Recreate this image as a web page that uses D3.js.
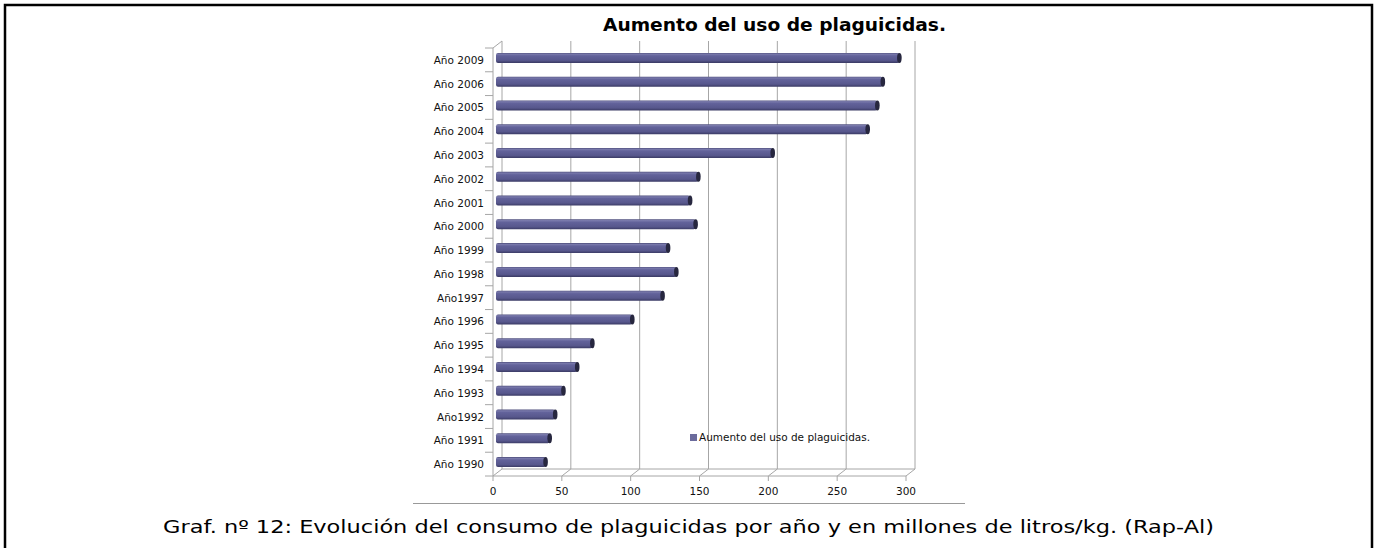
<!DOCTYPE html>
<html><head><meta charset="utf-8">
<script src="https://cdn.jsdelivr.net/npm/d3@7"></script>
<style>body{margin:0;background:#fff}svg{display:block}</style>
</head><body>
<svg id="c" width="1376" height="548"></svg>
<script>
const categories = ["Año 2009","Año 2006","Año 2005","Año 2004","Año 2003","Año 2002","Año 2001","Año 2000","Año 1999","Año 1998","Año1997","Año 1996","Año 1995","Año 1994","Año 1993","Año1992","Año 1991","Año 1990"];
const values = [293,281,277,270,201,147,141,145,125,131,121,99,70,59,49,43,39,36];
const tickValues = [0,50,100,150,200,250,300];
const seriesName = "Aumento del uso de plaguicidas.";
const titleText = "Aumento del uso de plaguicidas.";
const captionText = "Graf. nº 12: Evolución del consumo de plaguicidas por año y en millones de litros/kg. (Rap-Al)";

const svg = d3.select("#c");
const font = "DejaVu Sans, Verdana, sans-serif";

svg.append("path").attr("d","M5,548 V5 H1372 V548").attr("fill","none").attr("stroke","#000").attr("stroke-width",2.5);

const x0 = 493, x1 = 906, yTop = 48, yBot = 476, dx = 9, dy = -7;
const x = d3.scaleLinear().domain([0,300]).range([x0,x1]);
const y = d3.scaleBand().domain(categories).range([yTop,yBot]);

const defs = svg.append("defs");
const g1 = defs.append("linearGradient").attr("id","bar").attr("x1",0).attr("y1",0).attr("x2",0).attr("y2",1);
[[0,"#4c4c7a"],[0.12,"#7a7aac"],[0.3,"#62629a"],[0.75,"#57578c"],[1,"#3a3a64"]].forEach(s=>g1.append("stop").attr("offset",s[0]).attr("stop-color",s[1]));

const grid = svg.append("g");
tickValues.forEach(v=>{
  grid.append("line").attr("x1",x(v)+dx).attr("x2",x(v)+dx).attr("y1",yTop+dy).attr("y2",yBot+dy).attr("stroke","#a6a6a6");
  grid.append("line").attr("x1",x(v)).attr("y1",yBot).attr("x2",x(v)+dx).attr("y2",yBot+dy).attr("stroke","#a6a6a6");
});
grid.append("line").attr("x1",x0).attr("x2",x0).attr("y1",yTop).attr("y2",yBot).attr("stroke","#a6a6a6");
grid.append("line").attr("x1",x0).attr("y1",yTop).attr("x2",x0+dx).attr("y2",yTop+dy).attr("stroke","#a6a6a6");
grid.append("line").attr("x1",x0).attr("x2",x1).attr("y1",yBot).attr("y2",yBot).attr("stroke","#a6a6a6");
grid.append("line").attr("x1",x0+dx).attr("x2",x1+dx).attr("y1",yBot+dy).attr("y2",yBot+dy).attr("stroke","#a6a6a6");
categories.forEach(c=>{
  grid.append("line").attr("x1",x0-8).attr("x2",x0).attr("y1",y(c)).attr("y2",y(c)).attr("stroke","#a6a6a6");
});
grid.append("line").attr("x1",x0-8).attr("x2",x0).attr("y1",yBot).attr("y2",yBot).attr("stroke","#a6a6a6");
tickValues.forEach(v=>{
  grid.append("line").attr("x1",x(v)).attr("x2",x(v)).attr("y1",yBot).attr("y2",yBot+5).attr("stroke","#a6a6a6");
});

const bh = 10;
const bars = svg.append("g");
categories.forEach((c,i)=>{
  const cy = y(c) + y.bandwidth()/2 - 2;
  const bx0 = x(0) + 3, bx1 = x(values[i]) + 3;
  bars.append("rect").attr("x",bx0).attr("y",cy-bh/2).attr("width",bx1-bx0).attr("height",bh).attr("rx",2).attr("fill","url(#bar)");
  bars.append("ellipse").attr("cx",bx1).attr("cy",cy).attr("rx",2.3).attr("ry",bh/2).attr("fill","#27273f");
});

svg.append("g").selectAll("text").data(categories).join("text")
  .attr("x",x0-9).attr("y",d=>y(d)+y.bandwidth()/2+4)
  .attr("text-anchor","end").attr("font-family",font).attr("font-size",10.5).attr("fill","#111").text(d=>d);
svg.append("g").selectAll("text").data(tickValues).join("text")
  .attr("x",d=>x(d)).attr("y",yBot+19)
  .attr("text-anchor","middle").attr("font-family",font).attr("font-size",10.5).attr("fill","#111").text(d=>d);

svg.append("text").attr("x",774.5).attr("y",31).attr("text-anchor","middle").attr("font-family",font)
  .attr("font-weight","bold").attr("font-size",18).attr("fill","#000")
  .attr("textLength",343).attr("lengthAdjust","spacingAndGlyphs").text(titleText);

svg.append("rect").attr("x",690).attr("y",434).attr("width",7).attr("height",7).attr("fill","#6b6b9c");
svg.append("text").attr("x",699).attr("y",441).attr("font-family",font).attr("font-size",10).attr("fill","#111")
  .attr("textLength",171).attr("lengthAdjust","spacingAndGlyphs").text(seriesName);

svg.append("line").attr("x1",413).attr("x2",965).attr("y1",503.5).attr("y2",503.5).attr("stroke","#999");

svg.append("text").attr("x",688.5).attr("y",533).attr("text-anchor","middle").attr("font-family",font)
  .attr("font-size",17).attr("fill","#000")
  .attr("textLength",1051).attr("lengthAdjust","spacingAndGlyphs").text(captionText);
</script>
</body></html>
